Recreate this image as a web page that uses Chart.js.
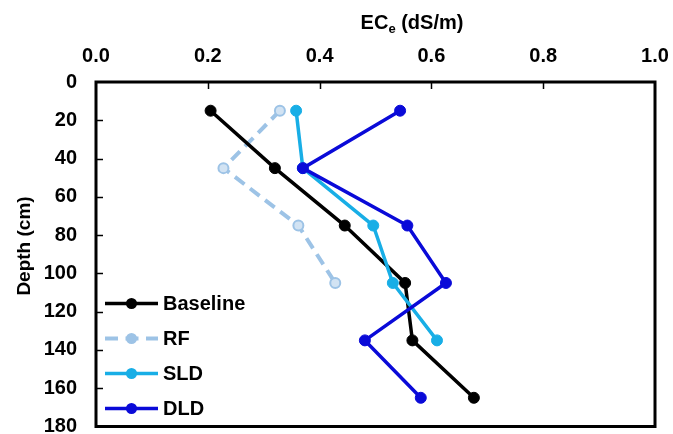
<!DOCTYPE html>
<html>
<head>
<meta charset="utf-8">
<script src="https://cdn.jsdelivr.net/npm/chart.js@4.4.1/dist/chart.umd.min.js"></script>
<style>
  html, body { margin: 0; padding: 0; background: #fff; }
  #wrap { width: 673px; height: 434px; }
</style>
</head>
<body>
<div id="wrap"><canvas id="c" width="673" height="434"></canvas></div>
<script>
// Soil salinity profile: ECe (dS/m) against sampling depth (cm)
const depths   = [15, 45, 75, 105, 135, 165];
const baseline = [0.205, 0.320, 0.445, 0.553, 0.566, 0.676];
const rf       = [0.329, 0.228, 0.362, 0.428];
const sld      = [0.358, 0.370, 0.496, 0.531, 0.610];
const dld      = [0.544, 0.370, 0.557, 0.626, 0.481, 0.581];

const seriesNames = ['Baseline', 'RF', 'SLD', 'DLD'];
const xTitle = { main: 'EC', sub: 'e', rest: ' (dS/m)' };
const yTitle = 'Depth (cm)';

const FONT = '"Liberation Sans", Arial, sans-serif';

function pts(values) {
  return values.map((v, i) => ({ x: v, y: depths[i] }));
}

function series(label, values, color, extra) {
  return Object.assign({
    label,
    data: pts(values),
    showLine: true,
    borderColor: color,
    backgroundColor: color,
    pointBackgroundColor: color,
    pointBorderColor: color,
    borderWidth: 3.5,
    pointRadius: 5.5,
    pointBorderWidth: 1,
    pointHoverRadius: 5.5,
    tension: 0
  }, extra || {});
}

const datasets = [
  series(seriesNames[0], baseline, '#000000', { order: 2 }),
  series(seriesNames[1], rf, '#9dc3e6', {
    order: 3, borderDash: [12, 7], borderWidth: 4,
    pointBackgroundColor: '#d2e3f3', pointBorderWidth: 2, pointRadius: 5
  }),
  series(seriesNames[2], sld, '#18aee6', { order: 1 }),
  series(seriesNames[3], dld, '#0a0ad8', { order: 0 })
];

// frame, inward tick marks, axis titles and the in-plot legend
const decor = {
  id: 'decor',
  afterDraw(chart) {
    const { ctx, chartArea: a, scales } = chart;
    ctx.save();

    // inward ticks
    ctx.strokeStyle = '#000';
    ctx.lineWidth = 1.5;
    scales.x.ticks.forEach(t => {
      if (t.value <= scales.x.min || t.value >= scales.x.max) return;
      const px = Math.round(scales.x.getPixelForValue(t.value)) + 0.5;
      ctx.beginPath(); ctx.moveTo(px, a.top); ctx.lineTo(px, a.top + 7); ctx.stroke();
    });
    scales.y.ticks.forEach(t => {
      if (t.value <= scales.y.min || t.value >= scales.y.max) return;
      const py = Math.round(scales.y.getPixelForValue(t.value)) + 0.5;
      ctx.beginPath(); ctx.moveTo(a.left, py); ctx.lineTo(a.left + 7, py); ctx.stroke();
    });

    // plot frame
    ctx.lineWidth = 3;
    ctx.strokeRect(a.left, a.top, a.right - a.left, a.bottom - a.top);

    // x title with subscript
    ctx.fillStyle = '#000';
    ctx.textBaseline = 'alphabetic';
    ctx.textAlign = 'left';
    const big = 'bold 20px ' + FONT, small = 'bold 13px ' + FONT;
    ctx.font = big;  const w1 = ctx.measureText(xTitle.main).width;
    ctx.font = small; const w2 = ctx.measureText(xTitle.sub).width;
    ctx.font = big;  const w3 = ctx.measureText(xTitle.rest).width;
    let x0 = 412 - (w1 + w2 + w3) / 2;
    const yb = 29;
    ctx.font = big;  ctx.fillText(xTitle.main, x0, yb);
    ctx.font = small; ctx.fillText(xTitle.sub, x0 + w1, yb + 4);
    ctx.font = big;  ctx.fillText(xTitle.rest, x0 + w1 + w2, yb);

    // y title
    ctx.save();
    ctx.translate(25, 246);
    ctx.rotate(-Math.PI / 2);
    ctx.textAlign = 'center';
    ctx.textBaseline = 'middle';
    ctx.font = 'bold 19px ' + FONT;
    ctx.fillText(yTitle, 0, 0);
    ctx.restore();

    // legend
    const lx = a.left + 9, lw = 53, ly0 = a.bottom - 123, step = 35;
    chart.data.datasets.forEach((ds, i) => {
      const y = ly0 + i * step;
      ctx.save();
      ctx.strokeStyle = ds.borderColor;
      ctx.lineWidth = ds.borderWidth;
      ctx.setLineDash(ds.borderDash ? [13, 7.5] : []);
      ctx.beginPath(); ctx.moveTo(lx, y); ctx.lineTo(lx + lw, y); ctx.stroke();
      ctx.setLineDash([]);
      ctx.beginPath();
      ctx.arc(lx + lw / 2, y, 5.5, 0, Math.PI * 2);
      ctx.fillStyle = ds.borderDash ? ds.borderColor : ds.pointBackgroundColor;
      ctx.fill();
      ctx.restore();
      ctx.fillStyle = '#000';
      ctx.font = 'bold 20px ' + FONT;
      ctx.textAlign = 'left';
      ctx.textBaseline = 'middle';
      ctx.fillText(ds.label, lx + lw + 5, y + 1);
    });

    ctx.restore();
  }
};

new Chart(document.getElementById('c'), {
  type: 'scatter',
  data: { datasets },
  options: {
    responsive: false,
    animation: false,
    layout: { padding: { left: 0, top: 0, right: 18, bottom: 7 } },
    plugins: { legend: { display: false }, tooltip: { enabled: false } },
    scales: {
      x: {
        type: 'linear',
        position: 'top',
        min: 0, max: 1,
        ticks: {
          stepSize: 0.2,
          padding: 14,
          color: '#000',
          font: { family: FONT, size: 20, weight: 'bold' },
          callback: v => Number(v).toFixed(1)
        },
        grid: { display: false, drawTicks: false },
        border: { display: false },
        afterFit(s) { s.height = 82; s.paddingLeft = 0; s.paddingRight = 0; }
      },
      y: {
        type: 'linear',
        reverse: true,
        min: 0, max: 180,
        ticks: {
          stepSize: 20,
          padding: 19,
          color: '#000',
          font: { family: FONT, size: 20, weight: 'bold' }
        },
        grid: { display: false, drawTicks: false },
        border: { display: false },
        afterFit(s) { s.width = 96; s.paddingTop = 0; s.paddingBottom = 0; }
      }
    }
  },
  plugins: [decor]
});
</script>
</body>
</html>
